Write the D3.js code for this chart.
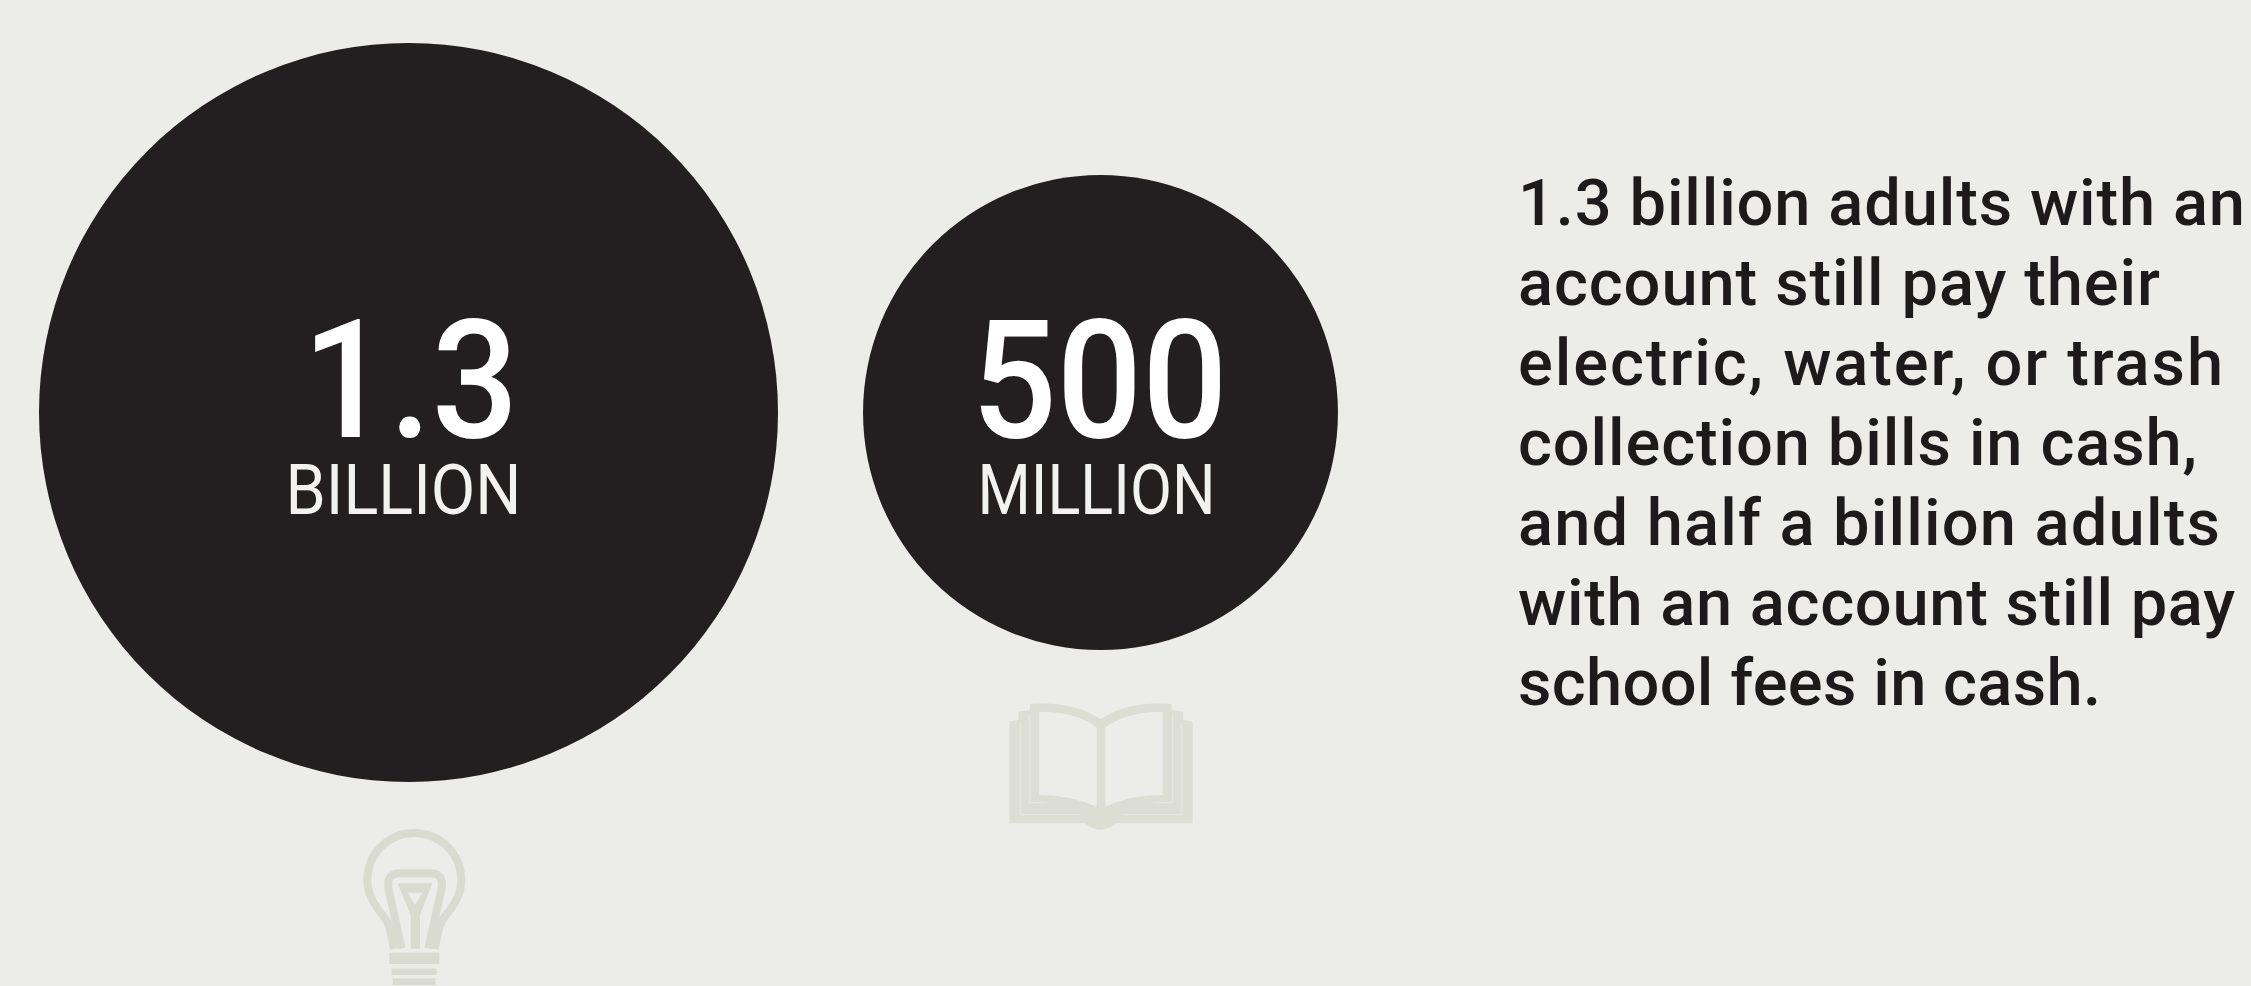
<!DOCTYPE html>
<html>
<head>
<meta charset="utf-8">
<script src="https://cdn.jsdelivr.net/npm/d3@7/dist/d3.min.js"></script>
<style>
  html, body { margin: 0; padding: 0; background: #ecede8; overflow: hidden; }
  svg { display: block; }
  text { font-family: Roboto, "Noto Sans", sans-serif; }
</style>
</head>
<body>
<svg id="chart" width="2251" height="986"></svg>
<script>
// Adults paying bills in cash, in millions
const categories = ["Utility bills", "School fees"];
const millions = [1300, 500];
const numberLabels = ["1.3", "500"];
const unitLabels = ["BILLION", "MILLION"];
const bodyLines = [
  "1.3 billion adults with an",
  "account still pay their",
  "electric, water, or trash",
  "collection bills in cash,",
  "and half a billion adults",
  "with an account still pay",
  "school fees in cash."
];

const W = 2251, H = 986;
const ink = "#231f20", paper = "#ecede8", iconTone = "#d9dbd0";
const svg = d3.select("#chart").attr("viewBox", [0, 0, W, H]);

svg.append("rect").attr("width", W).attr("height", H).attr("fill", paper);

// Bubble radius grows with the count of adults
const radius = d3.scalePow().exponent(0.4627).domain([0, 1300]).range([0, 369.5]);
const cx = d3.scaleOrdinal().domain(categories).range([408.5, 1100.5]);
const cy = 412.5;

const bubbles = svg.append("g").selectAll("g")
  .data(categories.map((c, i) => ({ c, v: millions[i], num: numberLabels[i], unit: unitLabels[i] })))
  .join("g")
  .attr("transform", d => `translate(${cx(d.c)},${cy})`);

bubbles.append("circle").attr("r", d => radius(d.v)).attr("fill", ink);

const numberWidth = [216, 256], unitWidth = [236, 238];
const numberDx = [2, -1], unitDx = [-5, -4];

bubbles.append("text")
  .attr("x", (d, i) => numberDx[i]).attr("y", 24)
  .attr("text-anchor", "middle")
  .attr("font-size", 166).attr("font-weight", 500).attr("fill", "#fff")
  .attr("textLength", (d, i) => numberWidth[i]).attr("lengthAdjust", "spacingAndGlyphs")
  .text(d => d.num);

bubbles.append("text")
  .attr("x", (d, i) => unitDx[i]).attr("y", 101)
  .attr("text-anchor", "middle")
  .attr("font-size", 70).attr("font-weight", 400).attr("fill", "#f2f2f0")
  .attr("textLength", (d, i) => unitWidth[i]).attr("lengthAdjust", "spacingAndGlyphs")
  .text(d => d.unit);

// Paragraph to the right of the bubbles, each line set to its measure
const lineWidths = [727, 642, 705, 679, 702, 717, 583];
const lineY = d3.scaleLinear().domain([0, bodyLines.length - 1]).range([225, 705]);
svg.append("g").selectAll("text")
  .data(bodyLines)
  .join("text")
  .attr("x", 1518)
  .attr("y", (d, i) => lineY(i))
  .attr("font-size", 65).attr("font-weight", 500).attr("fill", "#1d1a1b")
  .attr("textLength", (d, i) => lineWidths[i]).attr("lengthAdjust", "spacing")
  .text(d => d);

// Light bulb icon, drawn on a 600 x 558 grid
const bulb = svg.append("g").attr("transform", "translate(320,800) scale(0.3333)");
bulb.append("path")
  .attr("d", "M222 447 C214 410 212 375 192 350 C165 318 142 285 142 240 A141 141 0 0 1 424 240 C424 285 401 318 374 350 C354 375 352 410 344 447")
  .attr("fill", "none").attr("stroke", iconTone).attr("stroke-width", 24);
bulb.append("path")
  .attr("d", "M245 445 L205 265 Q200 220 240 220 L330 220 Q372 220 365 265 L325 445")
  .attr("fill", "none").attr("stroke", iconTone).attr("stroke-width", 24);
bulb.append("path")
  .attr("fill-rule", "evenodd").attr("fill", iconTone)
  .attr("d", "M233 250 L337 250 L300 345 L300 447 L272 447 L272 345 Z M262 278 L285 315 L308 278 Z");
bulb.append("g").attr("fill", iconTone).selectAll("rect")
  .data([[208, 458, 150, 34], [215, 506, 135, 19], [218, 535, 129, 20]])
  .join("rect")
  .attr("x", d => d[0]).attr("y", d => d[1]).attr("width", d => d[2]).attr("height", d => d[3]);

// Open book icon, drawn on a 720 x 480 grid
const book = svg.append("g").attr("transform", "translate(980,680) scale(0.3333)");
book.append("path").attr("fill", "#dcded3")
  .attr("d", "M88 125 L115 120 L115 95 L150 90 L150 72 Q280 62 362 118 Q440 62 575 72 L575 90 L610 95 L610 120 L638 125 L638 430 L410 430 Q362 468 315 430 L88 430 Z");
book.append("g").attr("fill", paper).selectAll("path")
  .data([
    "M178 95 Q290 95 350 142 L350 380 Q270 345 178 345 Z",
    "M376 142 Q440 95 548 95 L548 345 Q450 345 376 380 Z"
  ])
  .join("path").attr("d", d => d);
book.append("g").attr("stroke", paper).attr("stroke-width", 4).attr("fill", "none").attr("opacity", 0.55)
  .selectAll("path")
  .data(["M121 130 L121 404 L300 404", "M148 102 L148 368 L200 368", "M604 130 L604 404 L430 404", "M578 102 L578 368 L520 368"])
  .join("path").attr("d", d => d);
</script>
</body>
</html>
